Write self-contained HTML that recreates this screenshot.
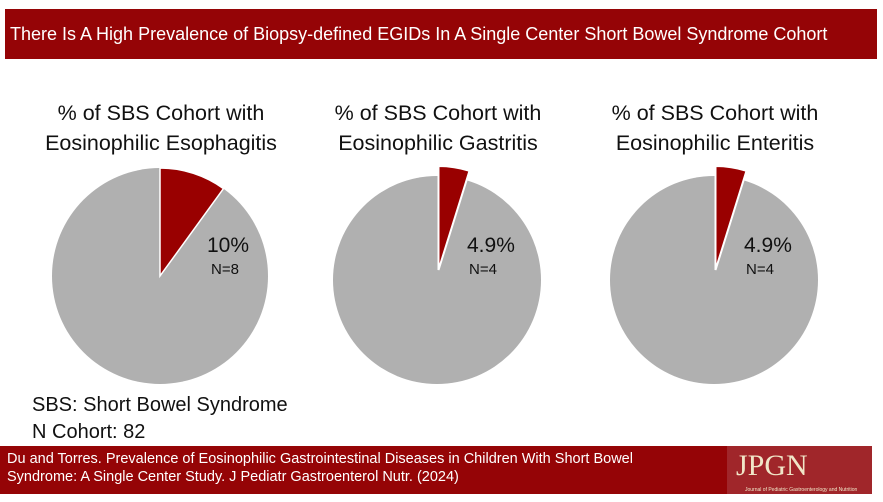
<!DOCTYPE html>
<html><head><meta charset="utf-8"><style>
body{margin:0;width:883px;height:502px;background:#fff;position:relative;overflow:hidden;font-family:"Liberation Sans",sans-serif}
.hdr{position:absolute;left:5px;top:9px;width:872px;height:50px;background:#950406;color:#fff;font-size:18px;line-height:50px;padding-left:5px;box-sizing:border-box;white-space:nowrap}
.ftr{position:absolute;left:0;top:446px;width:872px;height:48px;background:#950406;color:#fff;font-size:14.5px;line-height:18px;padding:4px 0 0 7px;box-sizing:border-box}
.logo{position:absolute;left:727px;top:0;width:145px;height:48px;background:#a0262a}
.t{position:absolute;font-size:21.5px;color:#111;text-align:center;width:290px;line-height:30px}
</style></head><body>
<div class="hdr">There Is A High Prevalence of Biopsy-defined EGIDs In A Single Center Short Bowel Syndrome Cohort</div>
<div class="t" style="left:16px;top:98px">% of SBS Cohort with<br>Eosinophilic Esophagitis</div>
<div class="t" style="left:293px;top:98px">% of SBS Cohort with<br>Eosinophilic Gastritis</div>
<div class="t" style="left:570px;top:98px">% of SBS Cohort with<br>Eosinophilic Enteritis</div>
<svg width="883" height="502" style="position:absolute;left:0;top:0">
<circle cx="160" cy="276" r="108" fill="#b0b0b0"/>
<path d="M160 276 L160 168 A108 108 0 0 1 223.5 188.6 Z" fill="#990000" stroke="#fff" stroke-width="1.5"/>
<circle cx="437" cy="280" r="104" fill="#b0b0b0"/>
<path d="M438.5 270 L438.5 166 A104 104 0 0 1 469.5 170.8 Z" fill="#990000" stroke="#fff" stroke-width="2"/>
<circle cx="714" cy="280" r="104" fill="#b0b0b0"/>
<path d="M715.5 270 L715.5 166 A104 104 0 0 1 746.5 170.8 Z" fill="#990000" stroke="#fff" stroke-width="2"/>
<g font-family="Liberation Sans" fill="#111">
<text x="207" y="252" font-size="21">10%</text><text x="211" y="274" font-size="15">N=8</text>
<text x="467" y="252" font-size="21">4.9%</text><text x="469" y="274" font-size="15">N=4</text>
<text x="744" y="252" font-size="21">4.9%</text><text x="746" y="274" font-size="15">N=4</text>
</g>
</svg>
<div style="position:absolute;left:32px;top:392px;font-size:20px;color:#111;line-height:27px">SBS: Short Bowel Syndrome<br>N Cohort: 82</div>
<div class="ftr">Du and Torres. Prevalence of Eosinophilic Gastrointestinal Diseases in Children With Short Bowel<br>Syndrome: A Single Center Study. J Pediatr Gastroenterol Nutr. (2024)
<div class="logo"><div style="position:absolute;left:9px;top:5px;font-family:'Liberation Serif',serif;font-size:30px;color:#f0e6c8;line-height:30px">JPGN</div><div style="position:absolute;left:18px;top:35px;font-size:5px;color:#f0e6c8;white-space:nowrap">Journal of Pediatric Gastroenterology and Nutrition</div></div></div>
</body></html>
